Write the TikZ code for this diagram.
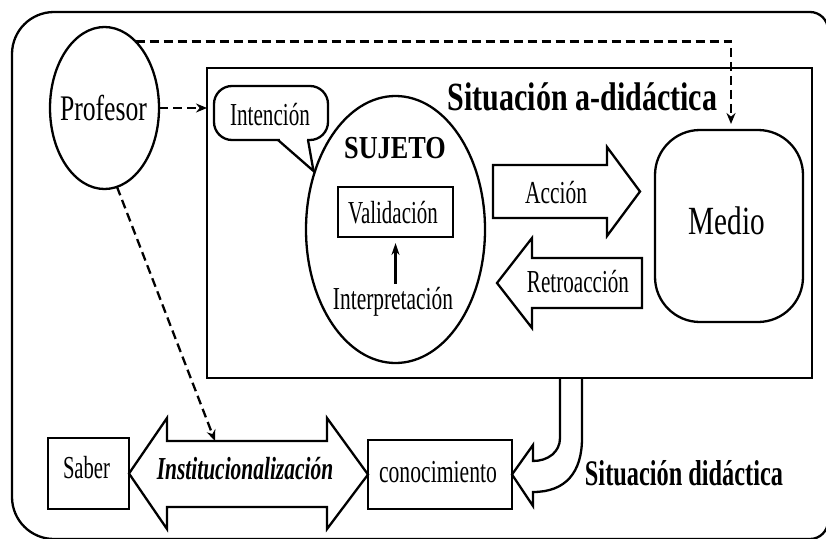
\documentclass[tikz,border=0pt]{standalone}
\usepackage{fontspec}
\setmainfont{Liberation Serif}
\usetikzlibrary{arrows.meta,shapes.geometric}
\newcommand\sx[2]{\scalebox{#1}[1]{#2}}
\begin{document}
\begin{tikzpicture}[x=1pt,y=-1pt,
 lab/.style={inner sep=0pt, anchor=base, font=\fontsize{32}{34}\selectfont},
 shp/.style={draw, line width=2.3pt, inner sep=0pt, outer sep=0pt},
 lw/.style={line width=2.3pt, line join=miter},
 dsh/.style={line width=2.3pt, dash pattern=on 9pt off 5pt, -{Stealth[length=11pt,width=9pt]}}]
\useasboundingbox (0,0) rectangle (826,538);
% outer frame
\draw[lw, rounded corners=42] (420,12) -- (12,12) -- (12,539) -- (420,539);
\draw[lw, rounded corners=18] (420,12) -- (828,12) -- (828,539) -- (420,539);
% a-didactic situation box
\node[shp, line width=2.6pt, minimum width=605, minimum height=310] (inner) at (509.5,223) {};
% Profesor
\node[shp, ellipse, minimum width=109, minimum height=162] (prof) at (104.5,108) {};
\node[lab, font=\fontsize{36}{38}\selectfont] (proft) at (103.5,120) {\sx{0.713}{Profesor}};
% Intencion callout
\node[shp, rounded corners=18, minimum width=114, minimum height=54] (int) at (271,113) {};
\fill[white] (279.8,138.2) rectangle (307,141.8);
\draw[lw] (278,140) -- (313.5,171) -- (308,140);
\node[lab] (intt) at (270,125) {\sx{0.662}{Intención}};
% Sujeto
\node[shp, ellipse, minimum width=179, minimum height=267] (suj) at (395.5,229.5) {};
\node[lab, font=\bfseries\fontsize{32}{34}\selectfont] (sujt) at (395,158) {\sx{0.82}{SUJETO}};
\node[shp, minimum width=115, minimum height=50] (val) at (395.5,212) {};
\node[lab] (valt) at (393,223) {\sx{0.655}{Validación}};
\node[lab] (intp) at (393,309) {\sx{0.669}{Interpretación}};
\draw[line width=2.8pt, -{Stealth[length=12pt,width=8pt]}, shorten <=3pt, shorten >=6pt] (intp.north -| val.south) -- (val.south);
% title
\node[lab, font=\bfseries\fontsize{40}{42}\selectfont] (sad) at (582.5,110) {\sx{0.75}{Situación a-didáctica}};
% Accion arrow
\draw[lw] (493,165) -- (607,165) -- (607,147) -- (640,191.5) -- (607,236) -- (607,218) -- (493,218) -- cycle;
\node[lab] (acc) at (556,203) {\sx{0.671}{Acción}};
% Retroaccion arrow
\draw[lw] (642,258) -- (532,258) -- (532,238) -- (497,283) -- (532,328) -- (532,308) -- (642,308) -- cycle;
\node[lab] (ret) at (578,292) {\sx{0.66}{Retroacción}};
% Medio
\node[shp, rounded corners=45, minimum width=148, minimum height=192] (med) at (729,226) {};
\node[lab, font=\fontsize{40}{42}\selectfont] (medt) at (727,234) {\sx{0.73}{Medio}};
% dashed connectors
\coordinate (mtop) at (731,124);
\draw[dsh] (prof.65) -| (mtop);
\draw[dsh] (prof.east) -- (prof.east -| inner.west);
\coordinate (insttop) at (215,441);
\draw[dsh] (prof.-81) -- (insttop);
% bottom
\node[shp, minimum width=81, minimum height=71] (sab) at (88.5,473.5) {};
\node[lab] (sabt) at (86.5,478) {\sx{0.645}{Saber}};
\node[shp, minimum width=144, minimum height=69] (con) at (440,474.5) {};
\node[lab] (cont) at (438,482) {\sx{0.677}{conocimiento}};
\draw[lw] (sab.east) -- (167,418) -- (167,441) -- (327,441) -- (327,418) -- (con.west) -- (327,529) -- (327,507) -- (167,507) -- (167,529) -- cycle;
\node[lab, font=\bfseries\itshape\fontsize{32}{34}\selectfont] (inst) at (245,479) {\sx{0.67}{Institucionalización}};
% curved arrow
\draw[lw] (560,378) -- (560,438) .. controls (560,452) and (548,461) .. (533,461) -- (533,445) -- (con.east) -- (533,506) -- (533,492) .. controls (566,492) and (582,472) .. (582,438) -- (582,378);
\node[lab, font=\bfseries\fontsize{36}{38}\selectfont] (sd) at (684,485) {\sx{0.676}{Situación didáctica}};
\end{tikzpicture}
\end{document}
